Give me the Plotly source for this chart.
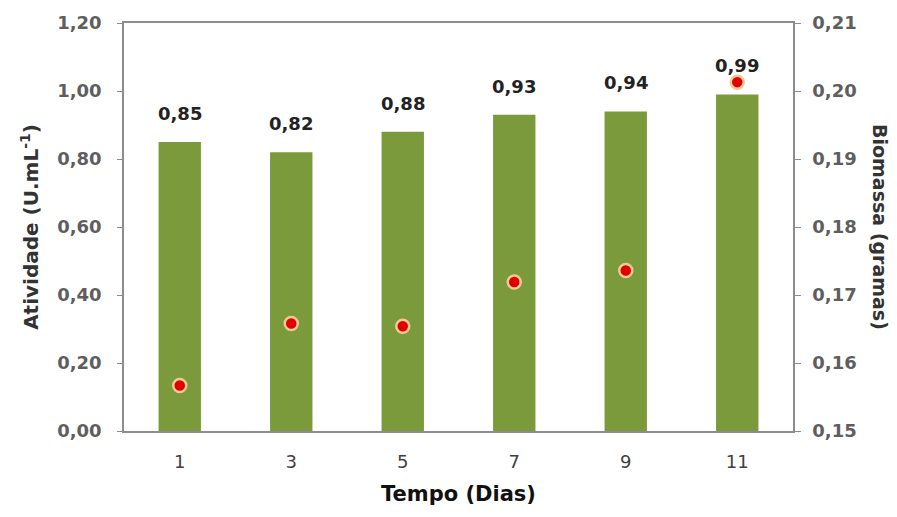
import plotly.graph_objects as go

# Data
dias = ["1", "3", "5", "7", "9", "11"]
atividade = [0.85, 0.82, 0.88, 0.93, 0.94, 0.99]
biomassa = [0.1567, 0.1658, 0.1654, 0.1719, 0.1736, 0.2013]
labels_atividade = ["0,85", "0,82", "0,88", "0,93", "0,94", "0,99"]

GRAY = "#8c8c8c"
TICK_COLOR = "#5e5e5e"
TICK_FONT = dict(family="DejaVu Sans", size=18, color=TICK_COLOR, weight="bold")

fig = go.Figure()

fig.add_trace(go.Bar(
    x=dias, y=atividade,
    marker=dict(color="#7a9a3c", line=dict(width=0)),
    name="Atividade",
    yaxis="y",
))

fig.add_trace(go.Scatter(
    x=dias, y=biomassa,
    mode="markers",
    marker=dict(color="#e00000", size=13,
                line=dict(color="#f3c995", width=2.5)),
    name="Biomassa",
    yaxis="y2",
))

# Value labels above bars (category index positions)
for i, (v, t) in enumerate(zip(atividade, labels_atividade)):
    fig.add_annotation(
        x=i, y=v, xref="x", yref="y", text=f"<b>{t}</b>",
        showarrow=False, yanchor="bottom", yshift=16,
        font=dict(family="DejaVu Sans", size=18, color="#222222"),
    )

# Right axis title (reads top to bottom)
fig.add_annotation(
    xref="paper", yref="paper", x=1.0, y=0.5, xanchor="center", xshift=87,
    text="<b>Biomassa (gramas)</b>", textangle=90, showarrow=False,
    font=dict(family="DejaVu Sans", size=19, color="#333333"),
)

fig.update_layout(
    width=897, height=517,
    margin=dict(l=124, r=104, t=17, b=86),
    paper_bgcolor="white", plot_bgcolor="white",
    separators=",.",
    showlegend=False,
    bargap=0.62,
    xaxis=dict(
        type="category",
        showline=True, mirror=True, linecolor=GRAY, linewidth=1.5,
        ticks="", showgrid=False,
        ticklabelstandoff=14,
        tickfont=dict(family="DejaVu Sans", size=18, color="#404040"),
        title=dict(text="<b>Tempo (Dias)</b>", standoff=15,
                   font=dict(family="DejaVu Sans", size=21, color="#111111")),
    ),
    yaxis=dict(
        range=[0, 1.2], dtick=0.2, tickformat=".2f",
        showline=True, linecolor=GRAY, linewidth=1.5,
        ticks="outside", ticklen=5, tickcolor=GRAY,
        showgrid=False, zeroline=False,
        ticklabelstandoff=12,
        tickfont=TICK_FONT,
        title=dict(text="<b>Atividade (U.mL<sup>-1</sup>)</b>", standoff=13,
                   font=dict(family="DejaVu Sans", size=20, color="#333333")),
    ),
    yaxis2=dict(
        range=[0.15, 0.21], dtick=0.01, tickformat=".2f",
        overlaying="y", side="right",
        showline=True, linecolor=GRAY, linewidth=1.5,
        ticks="outside", ticklen=6, tickcolor=GRAY,
        showgrid=False, zeroline=False,
        ticklabelstandoff=8,
        tickfont=TICK_FONT,
    ),
)

fig.write_html("out.html")
